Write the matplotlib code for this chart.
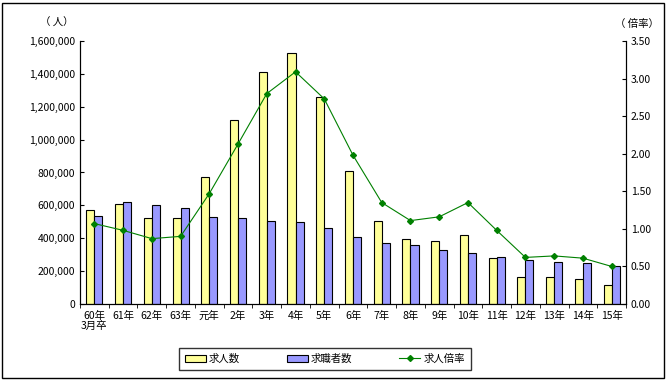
import numpy as np
import matplotlib.pyplot as plt
from matplotlib.patches import Rectangle

plt.rcParams['font.family'] = ['Noto Sans CJK JP', 'DejaVu Sans']

labels = ['60年\n3月卒', '61年', '62年', '63年', '元年', '2年', '3年', '4年', '5年', '6年',
          '7年', '8年', '9年', '10年', '11年', '12年', '13年', '14年', '15年']
kyujin = [572000, 608000, 521000, 521000, 771000, 1119000, 1411000, 1525000, 1257000, 809000,
          503000, 393000, 381000, 418000, 278000, 162000, 162000, 150000, 114000]
kyushoku = [535000, 620000, 602000, 582000, 529000, 521000, 505000, 497000, 460000, 406000,
            369000, 357000, 327000, 308000, 284000, 266000, 254000, 248000, 229000]
bairitsu = [1.07, 0.98, 0.87, 0.90, 1.47, 2.13, 2.80, 3.09, 2.73, 1.98,
            1.35, 1.11, 1.16, 1.35, 0.98, 0.62, 0.64, 0.61, 0.50]

fig = plt.figure(figsize=(6.7, 3.84), dpi=100)
ax = fig.add_axes([80/670, 1-304/384, 546/670, 263/384])
x = np.arange(len(labels))
w = 0.28
b1 = ax.bar(x - w/2, kyujin, w, color='#FFFF99', edgecolor='black', linewidth=0.8, label='求人数')
b2 = ax.bar(x + w/2, kyushoku, w, color='#9999FF', edgecolor='black', linewidth=0.8, label='求職者数')
ax.set_xlim(-0.5, len(labels) - 0.5)
ax.set_ylim(0, 1600000)
ax.set_yticks(np.arange(0, 1600001, 200000))
ax.set_yticklabels([f'{v:,}' for v in range(0, 1600001, 200000)])
ax.set_xticks(x)
ax.set_xticklabels(labels, fontsize=7.5, linespacing=1.0)
ax.tick_params(axis='x', length=0, pad=5)
ax.set_xticks(np.arange(-0.5, len(labels), 1), minor=True)
ax.tick_params(axis='x', which='minor', length=3, direction='out')
ax.tick_params(axis='y', labelsize=7.5, direction='in', length=3)
ax.spines['top'].set_visible(False)

ax2 = ax.twinx()
l, = ax2.plot(x, bairitsu, color='#008000', linewidth=0.8, marker='D', markersize=3, label='求人倍率')
ax2.set_ylim(0, 3.5)
ax2.set_yticks(np.arange(0, 3.51, 0.5))
ax2.set_yticklabels([f'{v:.2f}' for v in np.arange(0, 3.51, 0.5)])
ax2.tick_params(axis='y', labelsize=7.5, direction='in', length=3)
ax2.spines['top'].set_visible(False)

fig.text(57/670, 1-23/384, '（ 人）', fontsize=7.5, ha='center', va='center')
fig.text(637/670, 1-24/384, '（ 倍率）', fontsize=7.5, ha='center', va='center')

fig.legend(handles=[b1, b2, l], loc='center', bbox_to_anchor=(325/670, 1-359/384),
           ncol=3, fontsize=7.5, frameon=True, fancybox=False, edgecolor='black',
           handlelength=2.0, handletextpad=0.3, columnspacing=4.5, borderpad=0.6)

fig.patches.append(Rectangle((2/670, 1-378/384), 662/670, 375/384, transform=fig.transFigure,
                             fill=False, edgecolor='black', linewidth=1))

fig.savefig('out.png', dpi=100)
